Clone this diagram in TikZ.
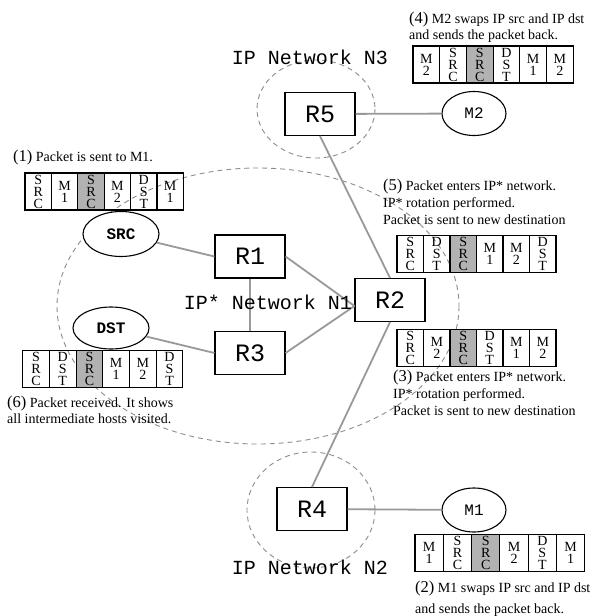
\documentclass[tikz,border=0pt]{standalone}
\usepackage{fontspec}
\setmainfont{Liberation Serif}
\setmonofont{Liberation Mono}
\usetikzlibrary{shapes.geometric,backgrounds}

\definecolor{linkgray}{gray}{0.6}
\definecolor{netgray}{gray}{0.55}
\definecolor{cellgray}{gray}{0.7}

\newcommand{\stepno}[1]{{\fontsize{16.5}{17}\selectfont(#1)}}
% name, left x, centre y, cell width, cell labels
\newcommand{\packetstrip}[5]{%
  \foreach \lab [count=\i] in {#5} {
    \ifnum\i=3 \def\cellfill{cellgray}\else\def\cellfill{none}\fi
    \node[cell, fill=\cellfill, minimum width=#4pt] (#1-\i) at ({#2+(\i-0.5)*#4}, #3) {\lab};
  }
}

\begin{document}
\begin{tikzpicture}[x=1pt, y=-1pt,
    router/.style ={rectangle, draw, line width=1.1pt, fill=white, minimum width=70pt,
                    minimum height=43pt, inner sep=0pt, font=\ttfamily\fontsize{25}{25}\selectfont},
    host/.style   ={ellipse, draw, line width=1.1pt, fill=white, minimum width=64pt,
                    minimum height=44pt, inner sep=0pt, font=\ttfamily\fontsize{16}{16}\selectfont},
    link/.style   ={draw=linkgray, line width=1.8pt},
    network/.style={draw=netgray, dash pattern=on 5pt off 4pt, line width=0.9pt},
    netlabel/.style={inner sep=0pt, font=\ttfamily\fontsize{20}{20}\selectfont},
    cell/.style   ={rectangle, draw, line width=1.1pt, minimum height=37pt, inner sep=0pt,
                    align=center, font=\fontsize{14}{12}\selectfont},
    note/.style   ={anchor=west, align=left, inner sep=0pt, font=\fontsize{14}{17}\selectfont}]
   \useasboundingbox (0,0) rectangle (594,616);

   % routers
   \node[router] (r1) at (250,256.5) {R1};
   \node[router] (r2) at (390,300)   {R2};
   \node[router] (r3) at (250,353)   {R3};
   \node[router] (r4) at (312,509)   {R4};
   \node[router] (r5) at (320,114)   {R5};

   % hosts
   \node[host, minimum width=76pt, minimum height=45pt, font=\ttfamily\bfseries\fontsize{16}{16}\selectfont] (src) at (121,234) {SRC};
   \node[host, minimum width=76pt, minimum height=42pt, font=\ttfamily\bfseries\fontsize{16}{16}\selectfont] (dst) at (111,328) {DST};
   \node[host] (m1) at (474,510) {M1};
   \node[host] (m2) at (474,113.5) {M2};

   \draw[link] (src) -- (r1.west);
   \draw[link] (dst) -- (r3.west);
   \draw[link] (r1) -- (r3);
   \draw[link] (r1.east) -- ([yshift=-6pt]r2.west);
   \draw[link] (r3.east) -- ([yshift=-6pt]r2.west);
   \draw[link] (r5.south) -- (r2.north);
   \draw[link] (r2.south) -- (r4.north);
   \draw[link] (r5) -- (m2);
   \draw[link] (r4) -- (m1);

   % networks
   \begin{scope}[on background layer]
     \draw[network] (258,306) ellipse [x radius=201, y radius=138];
     \draw[network] (316,109) ellipse [x radius=59, y radius=49];
     \draw[network] (311,510) ellipse [x radius=64, y radius=58];
   \end{scope}
   \node[netlabel] (n1) at (268,302) {IP* Network N1};
   \node[netlabel] (n2) at (310,567) {IP Network N2};
   \node[netlabel] (n3) at (310,57)  {IP Network N3};

   % packets
   \packetstrip{p1}{25}{191.5}{26.4}{{S\\R\\C},{M\\1},{S\\R\\C},{M\\2},{D\\S\\T},{M\\1}}
   \packetstrip{p2}{415}{553}{28.3}{{M\\1},{S\\R\\C},{S\\R\\C},{M\\2},{D\\S\\T},{M\\1}}
   \packetstrip{p3}{397}{348}{26.5}{{S\\R\\C},{M\\2},{S\\R\\C},{D\\S\\T},{M\\1},{M\\2}}
   \packetstrip{p4}{413}{64.5}{26.7}{{M\\2},{S\\R\\C},{S\\R\\C},{D\\S\\T},{M\\1},{M\\2}}
   \packetstrip{p5}{397}{253.7}{26.5}{{S\\R\\C},{D\\S\\T},{S\\R\\C},{M\\1},{M\\2},{D\\S\\T}}
   \packetstrip{p6}{22.7}{369}{26.7}{{S\\R\\C},{D\\S\\T},{S\\R\\C},{M\\1},{M\\2},{D\\S\\T}}

   % steps
   \node[note] (t1) at (13,158) {\stepno{1} Packet is sent to M1.};
   \node[note, font=\fontsize{14}{21}\selectfont] (t2) at (415,598.5)
        {\stepno{2} M1 swaps IP src and IP dst\\and sends the packet back.};
   \node[note] (t3) at (393,393)
        {\stepno{3} Packet enters IP* network.\\IP* rotation performed.\\Packet is sent to new destination};
   \node[note, font=\fontsize{14}{16}\selectfont] (t4) at (409,27)
        {\stepno{4} M2 swaps IP src and IP dst\\and sends the packet back.};
   \node[note] (t5) at (383,202)
        {\stepno{5} Packet enters IP* network.\\IP* rotation performed.\\Packet is sent to new destination};
   \node[note, font=\fontsize{14}{16}\selectfont] (t6) at (7,410)
        {\stepno{6} Packet received. It shows\\all intermediate hosts visited.};
\end{tikzpicture}
\end{document}
